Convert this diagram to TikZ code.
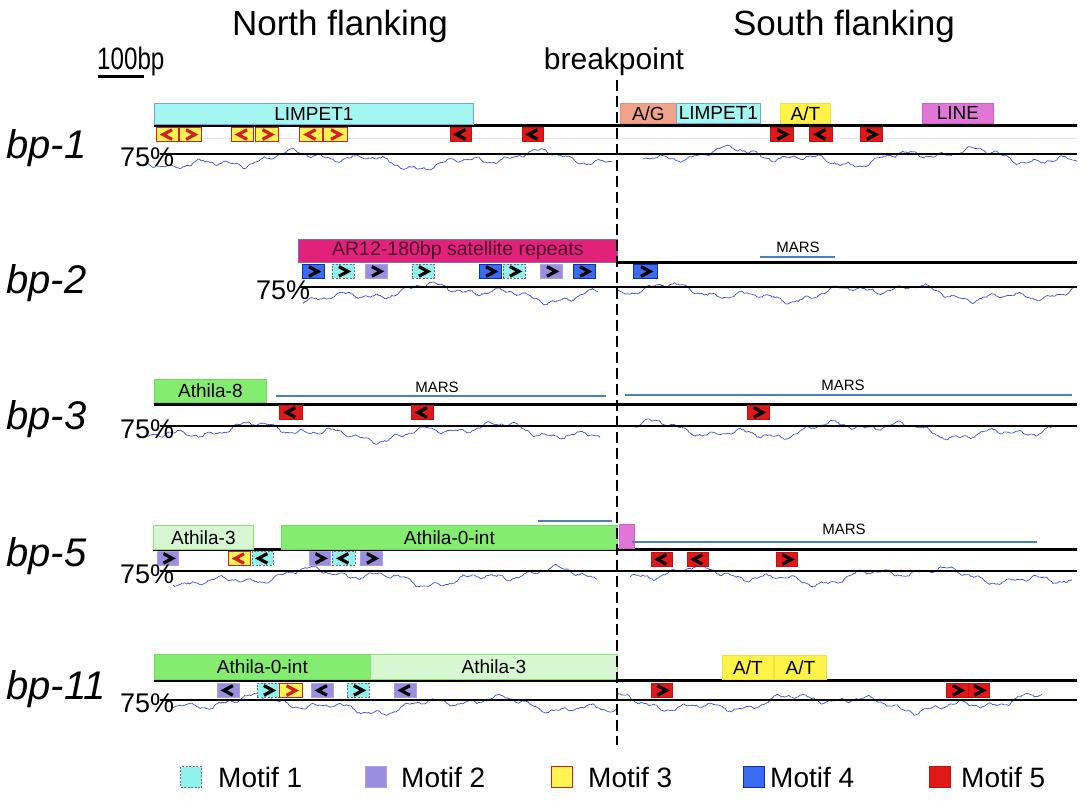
\documentclass[tikz,border=0pt]{standalone}
\usepackage{fontspec}
\setmainfont{Liberation Sans}
\usetikzlibrary{calc}
\definecolor{cyanF}{HTML}{A4F6F0}
\definecolor{cyanD}{HTML}{6FA8D8}
\definecolor{agF}{HTML}{F0A28A}
\definecolor{agD}{HTML}{E89078}
\definecolor{atF}{HTML}{FFF34A}
\definecolor{atD}{HTML}{F0E040}
\definecolor{lineF}{HTML}{E276D8}
\definecolor{lineD}{HTML}{D060C8}
\definecolor{arF}{HTML}{E2217A}
\definecolor{arD}{HTML}{7070C0}
\definecolor{arT}{HTML}{4A0F2A}
\definecolor{gF}{HTML}{84EC6E}
\definecolor{gD}{HTML}{70D860}
\definecolor{lgF}{HTML}{D6F7D2}
\definecolor{lgD}{HTML}{8CE07C}
\definecolor{marsC}{HTML}{4A80C2}
\definecolor{waveC}{HTML}{3A4EDB}
\definecolor{mAF}{HTML}{8FF2EC}
\definecolor{mAD}{HTML}{607878}
\definecolor{mBF}{HTML}{9A8EE0}
\definecolor{mBD}{HTML}{AAA0EA}
\definecolor{mCF}{HTML}{FFF450}
\definecolor{mCD}{HTML}{D42020}
\definecolor{mDF}{HTML}{3A6CF0}
\definecolor{mDD}{HTML}{1030B0}
\definecolor{mEF}{HTML}{E01818}
\definecolor{mED}{HTML}{C01010}
\newcommand\fsz[1]{\fontsize{#1}{#1}\selectfont}
\newcounter{motc}
\newcommand\mot[5]{%
  \stepcounter{motc}%
  \node[#1, minimum width=#3-#2, minimum height=14, anchor=north west] (mo\arabic{motc}) at (#2,#4) {};%
  \draw[chev,#1c] ($(mo\arabic{motc}.center)+(-4.5*#5,-4.8)$) -- ++(9*#5,4.8) -- ++(-9*#5,4.8);%
}
\newcommand\lab[7]{%
  \node[lab,#2, minimum width=#5-#3, minimum height=#6-#4] (#1) at (#3,#4) {#7};%
}
\newcommand\gcw[4]{%
  \draw[wave] plot[domain=0:#2-#1, samples=280] ({\x+#1},{#3+5.5*sin(1.6*\x+#4)+3.8*sin(4.3*\x+2*#4)+2*sin(11.7*\x+3*#4)+1*sin(27*\x+#4)+0.7*rand});%
}
\begin{document}
\begin{tikzpicture}[x=1pt,y=-1pt,
  lab/.style={anchor=north west, inner sep=0pt, draw, line width=0.8pt, font=\fsz{19}},
  mA/.style={fill=mAF, draw=mAD, line width=0.8pt, dash pattern=on 2pt off 1.5pt, inner sep=0pt},
  mB/.style={fill=mBF, draw=mBD, line width=0.8pt, inner sep=0pt},
  mC/.style={fill=mCF, draw=mCD, line width=1.1pt, inner sep=0pt},
  mD/.style={fill=mDF, draw=mDD, line width=1pt, inner sep=0pt},
  mE/.style={fill=mEF, draw=mED, line width=0.8pt, inner sep=0pt},
  mAc/.style={}, mBc/.style={}, mCc/.style={draw=mCD}, mDc/.style={}, mEc/.style={},
  chev/.style={draw=black, line width=3.2pt, line join=miter},
  mainln/.style={line width=3pt, black},
  pctln/.style={line width=1.4pt, black},
  marsln/.style={line width=2pt, marsC},
  marslab/.style={font=\fsz{15}, inner sep=0pt},
  wave/.style={draw=waveC, line width=0.7pt},
  bplab/.style={anchor=base west, font=\fsz{40}\itshape, inner sep=0pt},
  pct/.style={anchor=west, font=\fsz{27}, inner sep=0pt},
  leg/.style={anchor=west, font=\fsz{28}, inner sep=0pt}]
\useasboundingbox (0,0) rectangle (1086,800);
\pgfmathsetseed{7}
% titles
\node[anchor=base, font=\fsz{35}, inner sep=0pt] (north) at (340,36) {North flanking};
\node[anchor=base, font=\fsz{35}, inner sep=0pt] (south) at (844,36) {South flanking};
\node[anchor=base, font=\fsz{30}, inner sep=0pt] (bpt) at (614,70) {breakpoint};
\node[anchor=base west, inner sep=0pt] (scl) at (97,70) {\scalebox{0.78}[1]{\fsz{31}100bp}};
\coordinate (sb1) at (98,76);
\coordinate (sb2) at (144,76);
\draw[line width=3pt] (sb1) -- (sb2);
% row labels
\node[bplab] (r1) at (6,158) {bp-1};
\node[bplab] (r2) at (6,293) {bp-2};
\node[bplab] (r3) at (6,429) {bp-3};
\node[bplab] (r5) at (6,566) {bp-5};
\node[bplab] (r11) at (6,699) {bp-11};
% ---------- bp-1
\draw[gray!18, line width=1pt] (154,138) -- (1077,138);
\gcw{148}{612}{160}{10}
\gcw{643}{1077}{157}{130}
\draw[pctln] (160,154) -- (1077,154);
\draw[mainln] (154,125) -- (1077,125);
\lab{limpA}{fill=cyanF, draw=cyanD}{154}{103}{473}{124}{LIMPET1}
\lab{agA}{fill=agF, draw=agD}{620}{103}{676}{123}{A/G}
\lab{limpB}{fill=cyanF, draw=cyanD}{676}{103}{760}{123}{LIMPET1}
\lab{atA}{fill=atF, draw=atD}{780}{103}{830}{123}{A/T}
\lab{lineA}{fill=lineF, draw=lineD}{922}{103}{993}{123}{LINE}
\mot{mC}{156}{178}{127}{-1}
\mot{mC}{179}{201}{127}{1}
\mot{mC}{231}{253}{127}{-1}
\mot{mC}{255}{278}{127}{1}
\mot{mC}{299}{322}{127}{-1}
\mot{mC}{323}{347}{127}{1}
\mot{mE}{450}{471}{127}{-1}
\mot{mE}{522}{543}{127}{-1}
\mot{mE}{770}{793}{127}{1}
\mot{mE}{809}{832}{127}{-1}
\mot{mE}{860}{882}{127}{1}
\node[pct] (p1) at (120,157) {75\%};
% ---------- bp-2
\gcw{303}{598}{293}{50}
\gcw{617}{1077}{293}{200}
\draw[pctln] (300,287) -- (1077,287);
\draw[mainln] (617,262) -- (1077,262);
\node[lab, fill=arF, draw=arD, text=arT, font=\fsz{19.5}, minimum width=319, minimum height=23] (ar) at (298,239) {AR12-180bp satellite repeats};
\mot{mD}{302}{324}{264}{1}
\mot{mA}{332}{354}{264}{1}
\mot{mB}{365}{387}{264}{1}
\mot{mA}{412}{434}{264}{1}
\mot{mD}{479}{501}{264}{1}
\mot{mA}{503}{525}{264}{1}
\mot{mB}{540}{562}{264}{1}
\mot{mD}{573}{595}{264}{1}
\mot{mD}{633}{657}{264}{1}
\coordinate (ms2a) at (760,257);
\coordinate (ms2b) at (835,257);
\draw[marsln] (ms2a) -- (ms2b);
\node[marslab] (ml2) at (798,247) {MARS};
\node[pct] (p2) at (256,290) {75\%};
% ---------- bp-3
\gcw{148}{600}{432}{90}
\gcw{632}{1052}{430}{260}
\draw[pctln] (160,426) -- (1077,426);
\draw[mainln] (154,404) -- (1077,404);
\lab{ath8}{fill=gF, draw=gD}{154}{379}{266}{402}{Athila-8}
\draw[marsln] (276,396) -- (606,396);
\node[marslab] (ml3a) at (437,387) {MARS};
\draw[marsln] (625,395) -- (1072,395);
\node[marslab] (ml3b) at (843,385) {MARS};
\mot{mE}{279}{302}{405}{-1}
\mot{mE}{411}{433}{405}{-1}
\mot{mE}{747}{769}{405}{1}
\node[pct] (p3) at (120,429) {75\%};
% ---------- bp-5
\gcw{173}{597}{577}{30}
\gcw{630}{1072}{576}{170}
\draw[pctln] (160,571) -- (1077,571);
\draw[mainln] (153,549) -- (1077,549);
\lab{ath3a}{fill=lgF, draw=lgD}{153}{525}{253}{549}{Athila-3}
\lab{ath0a}{fill=gF, draw=gD}{281}{525}{617}{549}{Athila-0-int}
\draw[marsln] (538,521) -- (612,521);
\node[lab, fill=lineF, draw=lineD, minimum width=15, minimum height=24] (mag5) at (619,524) {};
\draw[marsln] (632,542) -- (1037,542);
\node[marslab] (ml5) at (844,529) {MARS};
\mot{mB}{157}{178}{551}{1}
\mot{mC}{228}{250}{551}{-1}
\mot{mA}{252}{273}{551}{-1}
\mot{mB}{309}{330}{551}{1}
\mot{mA}{332}{355}{551}{-1}
\mot{mB}{360}{382}{551}{1}
\mot{mE}{651}{672}{552}{-1}
\mot{mE}{687}{708}{552}{-1}
\mot{mE}{776}{797}{552}{1}
\node[pct] (p5) at (120,574) {75\%};
% ---------- bp-11
\gcw{173}{617}{705}{140}
\gcw{617}{1042}{703}{310}
\draw[pctln] (160,700) -- (1077,700);
\draw[mainln] (154,680) -- (1077,680);
\lab{ath0b}{fill=gF, draw=gD}{154}{654}{370}{679}{Athila-0-int}
\lab{ath3b}{fill=lgF, draw=lgD}{370}{654}{617}{679}{Athila-3}
\lab{atB}{fill=atF, draw=atD}{722}{655}{773}{679}{A/T}
\lab{atC}{fill=atF, draw=atD}{774}{655}{826}{679}{A/T}
\mot{mB}{217}{239}{683}{-1}
\mot{mA}{257}{279}{683}{1}
\mot{mC}{279}{302}{683}{1}
\mot{mB}{311}{333}{683}{-1}
\mot{mA}{347}{369}{683}{1}
\mot{mB}{394}{416}{683}{-1}
\mot{mE}{651}{672}{683}{1}
\mot{mE}{946}{968}{683}{1}
\mot{mE}{968}{989}{683}{1}
\node[pct] (p11) at (120,703) {75\%};
% ---------- breakpoint line
\coordinate (bk1) at (617,80);
\coordinate (bk2) at (617,745);
\draw[line width=2.8pt, dash pattern=on 11pt off 5pt] (bk1) -- (bk2);
% ---------- legend
\node[mA, minimum size=21] (lg1) at (191,777) {};
\node[leg] (lt1) at (218,777) {Motif 1};
\node[mB, minimum size=21] (lg2) at (376,777) {};
\node[leg] (lt2) at (401,777) {Motif 2};
\node[mC, minimum size=21] (lg3) at (562,777) {};
\node[leg] (lt3) at (588,777) {Motif 3};
\node[mD, minimum size=21] (lg4) at (754,777) {};
\node[leg] (lt4) at (770,777) {Motif 4};
\node[mE, minimum size=21] (lg5) at (940,777) {};
\node[leg] (lt5) at (961,777) {Motif 5};
\end{tikzpicture}
\end{document}
